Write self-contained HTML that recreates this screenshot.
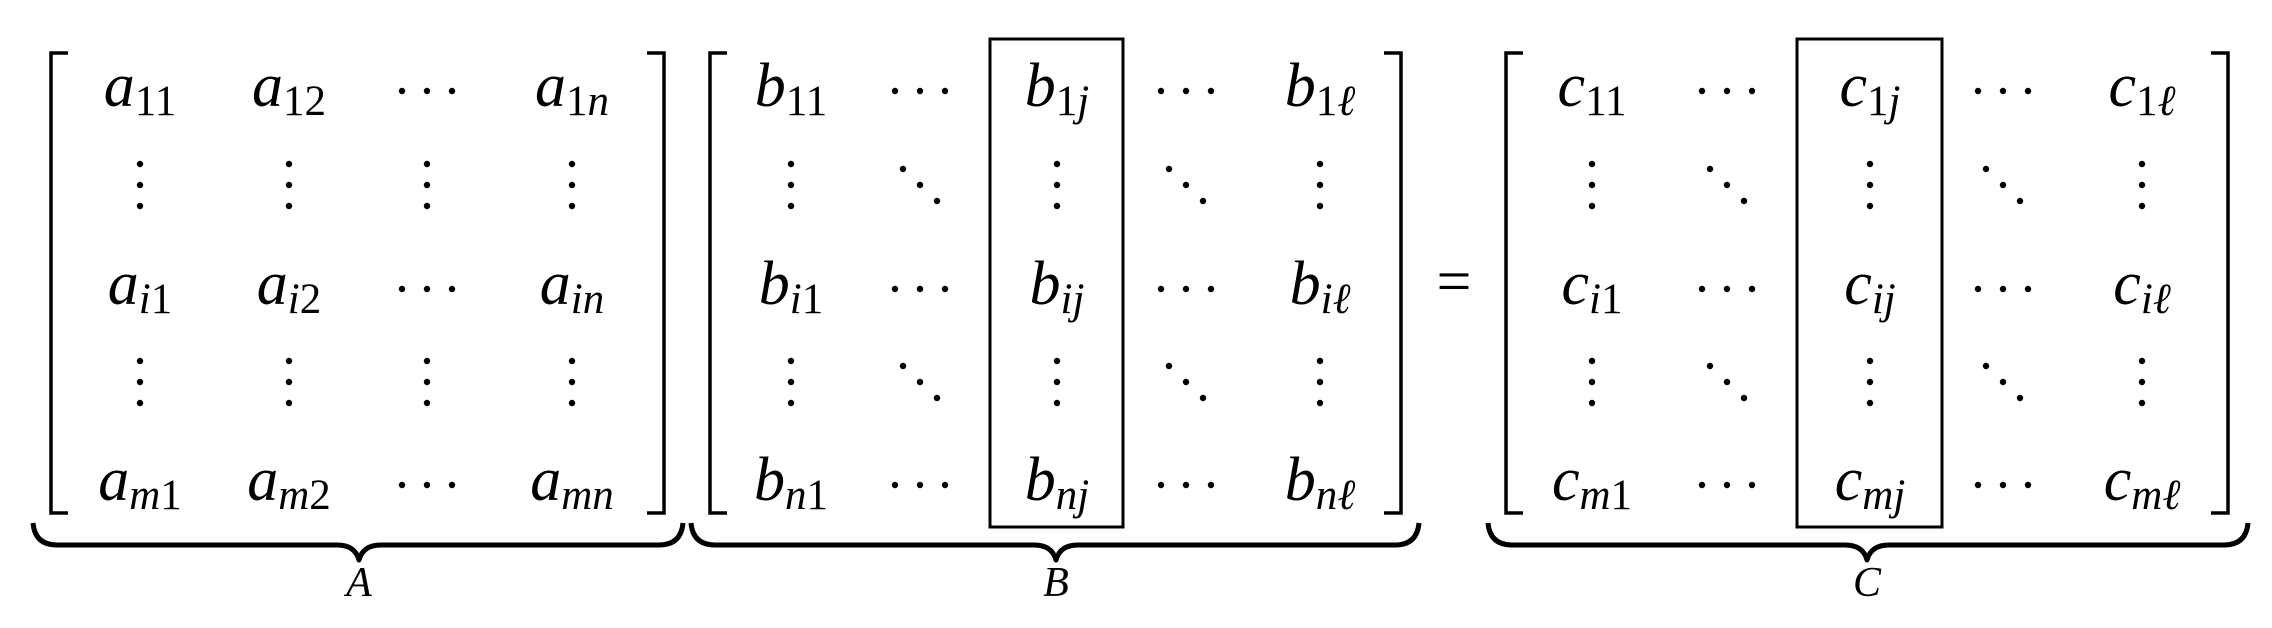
<!DOCTYPE html>
<html><head><meta charset="utf-8"><style>
html,body{margin:0;padding:0;background:#fff;}
svg{display:block;}
svg text{font-family:"Liberation Serif","DejaVu Serif",serif;fill:#000;}
</style></head><body>
<svg id="fig" width="2272" height="628" viewBox="0 0 2272 628" xmlns="http://www.w3.org/2000/svg"></svg>
<script>
const NS="http://www.w3.org/2000/svg";
const svg=document.getElementById('fig');
const FONT='"Liberation Serif","DejaVu Serif",serif';
// row baselines / centres
const rowBase=[106,304,500];
const vdotsCenters=[185,382];
// matrices: entries as [letter, subscript]; 'c' = cdots, 'v' = vdots, 'd' = ddots
const matA={name:'A',left:51,right:664,cols:[140,289,427,572],brace:[33,683],label:359,
 rows:[[['a','11'],['a','12'],'c',['a','1n']],
       ['v','v','v','v'],
       [['a','i1'],['a','i2'],'c',['a','in']],
       ['v','v','v','v'],
       [['a','m1'],['a','m2'],'c',['a','mn']]],box:null};
const matB={name:'B',left:710,right:1401,cols:[791,920,1057,1186,1320],brace:[691,1419],label:1056,
 rows:[[['b','11'],'c',['b','1j'],'c',['b','1ℓ']],
       ['v','d','v','d','v'],
       [['b','i1'],'c',['b','ij'],'c',['b','iℓ']],
       ['v','d','v','d','v'],
       [['b','n1'],'c',['b','nj'],'c',['b','nℓ']]],box:[990,1123]};
const matC={name:'C',left:1506,right:2228,cols:[1592,1727,1870,2003,2142],brace:[1488,2248],label:1867,
 rows:[[['c','11'],'c',['c','1j'],'c',['c','1ℓ']],
       ['v','d','v','d','v'],
       [['c','i1'],'c',['c','ij'],'c',['c','iℓ']],
       ['v','d','v','d','v'],
       [['c','m1'],'c',['c','mj'],'c',['c','mℓ']]],box:[1797,1942]};

function el(tag,attrs,parent){const e=document.createElementNS(NS,tag);for(const k in attrs)e.setAttribute(k,attrs[k]);(parent||svg).appendChild(e);return e;}
function dot(x,y,g){return el('circle',{cx:x,cy:y,r:3.2,fill:'#000'},g);}

function drawMatrix(m){
  const g=el('g',{});
  
  
  const top=53,bot=513,tick=17;
  const lb=el('path',{d:`M${m.left+tick},${top} H${m.left} V${bot} H${m.left+tick}`,fill:'none',stroke:'#000','stroke-width':3.5},g);
  
  
  const rb=el('path',{d:`M${m.right-tick},${top} H${m.right} V${bot} H${m.right-tick}`,fill:'none',stroke:'#000','stroke-width':3.5},g);
  
  
  m.rows.forEach((row,r)=>{
    row.forEach((cell,c)=>{
      const x=m.cols[c];
      if(Array.isArray(cell)){
        const y=rowBase[r/2];
        const t=el('text',{x:x,y:y,'text-anchor':'middle','font-size':62,'font-family':FONT},g);
        
        
        const a=el('tspan',{'font-style':'italic'},t);a.textContent=cell[0];
        [...cell[1]].forEach((ch,k)=>{
          const s=el('tspan',{'font-size':43,'font-style':/[0-9]/.test(ch)?'normal':'italic'},t);
          if(k===0)s.setAttribute('dy','9');
          s.textContent=ch;
        });
      }else if(cell==='c'){
        const y=rowBase[r/2]-15;
        const cg=el('g',{},g);
        
        
        [-25,0,25].forEach(d=>dot(x+d,y,cg));
      }else if(cell==='v'){
        const y=vdotsCenters[(r-1)/2];
        const cg=el('g',{},g);
        
        
        [-21,0,21].forEach(d=>dot(x,y+d,cg));
      }else if(cell==='d'){
        const y=vdotsCenters[(r-1)/2];
        const cg=el('g',{},g);
        
        
        [-1,0,1].forEach(d=>dot(x+d*17,y+d*16,cg));
      }
    });
  });
  if(m.box){
    const b=el('rect',{x:m.box[0],y:39,width:m.box[1]-m.box[0],height:488,fill:'none',stroke:'#000','stroke-width':3},g);
    
    
  }
  const [x0,x1]=m.brace, xm=m.label;
  const yt=523,yl=545,yp=560;
  const br=el('path',{d:`M${x0},${yt} Q${x0+2},${yl} ${x0+24},${yl} H${xm-22} Q${xm-4},${yl} ${xm},${yp} Q${xm+4},${yl} ${xm+22},${yl} H${x1-24} Q${x1-2},${yl} ${x1},${yt}`,fill:'none',stroke:'#000','stroke-width':5,'stroke-linejoin':'round'},g);
  
  
  const lab=el('text',{x:xm,y:596,'text-anchor':'middle','font-size':42,'font-style':'italic','font-family':FONT},g);
  
  
  lab.textContent=m.name;
}
[matA,matB,matC].forEach(drawMatrix);
const eq=el('text',{x:1454,y:302,'text-anchor':'middle','font-size':62,'font-family':FONT});


eq.textContent='=';
</script>
</body></html>
